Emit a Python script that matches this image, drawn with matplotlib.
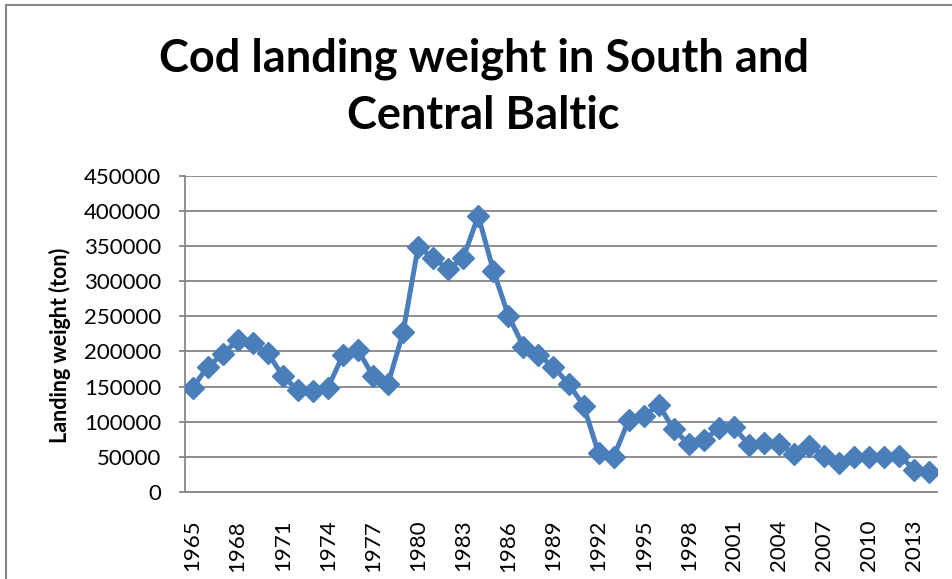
import matplotlib
matplotlib.use("Agg")
import matplotlib.pyplot as plt
from matplotlib.lines import Line2D

years = list(range(1965, 2015))
landings = [148000, 178000, 196000, 216000, 212000, 198000, 165000, 145000, 144000, 148000,
            195000, 202000, 165000, 154000, 227000, 349000, 333000, 317000, 333000, 393000,
            315000, 251000, 207000, 195000, 178000, 154000, 123000, 55000, 50000, 102000,
            108000, 124000, 89000, 68000, 73500, 91000, 92000, 67000, 69500, 68500,
            54500, 66000, 51500, 41500, 49500, 50500, 50500, 51500, 32000, 28000]
yticks = list(range(0, 450001, 50000))
title = "Cod landing weight in South and\nCentral Baltic"
ylabel = "Landing weight (ton)"

plt.rcParams['font.family'] = ['Lato', 'DejaVu Sans']

fig = plt.figure(figsize=(9.52, 5.79), dpi=100)
ax = fig.add_axes([185/952, 1-492/579, (937-185)/952, (492-175.7)/579])

x = list(range(len(years)))
ax.plot(x, landings, color='#4A7EBB', lw=3.6, marker='D', markersize=11,
        markerfacecolor='#4A7EBB', markeredgecolor='#4A7EBB', zorder=3)

ax.set_xlim(-0.5, len(years) - 0.5)
ax.set_ylim(0, 450000)
ax.set_yticks(yticks)
ax.set_yticklabels([str(v) for v in yticks])
ax.yaxis.grid(True, color='#868686', lw=1.3)
ax.set_axisbelow(True)

xt = x[::3]
ax.set_xticks(xt)
ax.set_xticklabels([str(years[i]) for i in xt], rotation=90)

for s in ['top', 'right']:
    ax.spines[s].set_visible(False)
for s in ['left', 'bottom']:
    ax.spines[s].set_color('#868686')
    ax.spines[s].set_linewidth(1.3)

ax.tick_params(axis='y', length=4, color='#868686', width=1.3, pad=13, labelsize=16)
ax.tick_params(axis='x', length=0, pad=20, labelsize=16)

ax.set_ylabel(ylabel, fontsize=15.5, fontweight='bold')
ax.yaxis.set_label_coords((71-185)/752, 0.465)
fig.text(0.508, 1 - 87/579, title, ha='center', va='center', fontsize=32.5,
         fontweight='bold', linespacing=1.45)

# chart area border (top and left)
fig.add_artist(Line2D([6/952, 6/952], [0, 1-5/579], transform=fig.transFigure, color='#868686', lw=1.5))
fig.add_artist(Line2D([6/952, 1], [1-5/579, 1-5/579], transform=fig.transFigure, color='#868686', lw=1.5))

fig.savefig("out.png", dpi=100)
